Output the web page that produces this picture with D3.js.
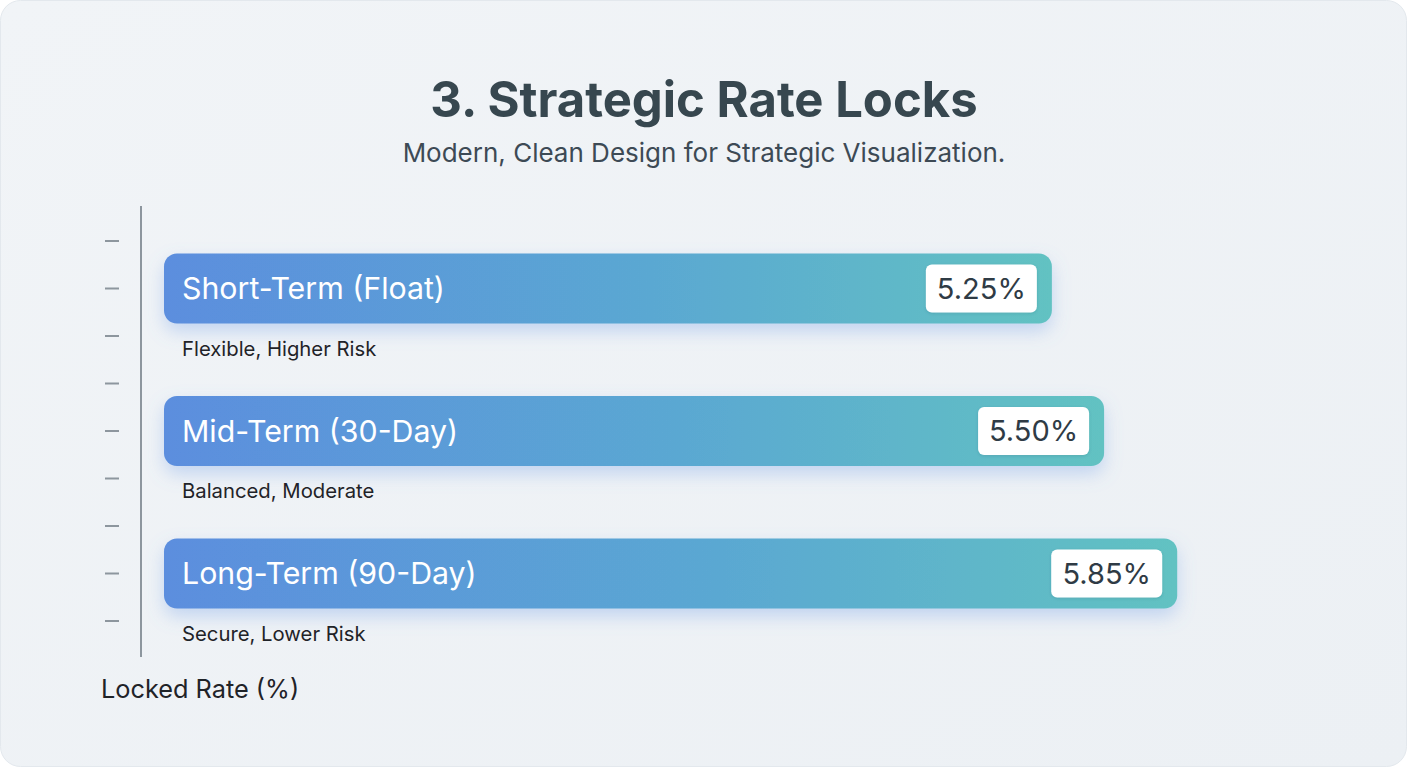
<!DOCTYPE html>
<html>
<head>
<meta charset="utf-8">
<script src="https://cdn.jsdelivr.net/npm/d3@7"></script>
<style>
  html, body { margin: 0; padding: 0; background: #ffffff; }
  body { width: 1408px; height: 768px; overflow: hidden; font-family: Inter, "Noto Sans", sans-serif; }
</style>
</head>
<body>
<svg id="chart" width="1408" height="768"></svg>
<script>
// DATA
const categories = ["Short-Term (Float)", "Mid-Term (30-Day)", "Long-Term (90-Day)"];
const rates = [5.25, 5.50, 5.85];
const notes = ["Flexible, Higher Risk", "Balanced, Moderate", "Secure, Lower Risk"];
const tickSlots = [0, 1, 2, 3, 4, 5, 6, 7, 8];
const barSlots = [1, 4, 7];

const svg = d3.select("#chart");
const defs = svg.append("defs");

// card background
const cardGrad = defs.append("linearGradient").attr("id", "cardGrad")
  .attr("x1", 0).attr("y1", 0).attr("x2", 1).attr("y2", 1);
cardGrad.append("stop").attr("offset", "0%").attr("stop-color", "#f1f4f7");
cardGrad.append("stop").attr("offset", "100%").attr("stop-color", "#ecf0f4");

svg.append("rect")
  .attr("x", 0.5).attr("y", 0.5).attr("width", 1406).attr("height", 766)
  .attr("rx", 20)
  .attr("fill", "url(#cardGrad)")
  .attr("stroke", "#e3e8ed");

// bar gradient + glow
const barGrad = defs.append("linearGradient").attr("id", "barGrad")
  .attr("gradientUnits", "objectBoundingBox")
  .attr("x1", 0).attr("x2", 1).attr("y1", 0).attr("y2", 0);
barGrad.append("stop").attr("offset", "0%").attr("stop-color", "#5b8ede");
barGrad.append("stop").attr("offset", "55%").attr("stop-color", "#5aa8d2");
barGrad.append("stop").attr("offset", "100%").attr("stop-color", "#62c2c2");

const glow = defs.append("filter").attr("id", "glow")
  .attr("x", "-10%").attr("y", "-40%").attr("width", "120%").attr("height", "200%");
glow.append("feDropShadow")
  .attr("dx", 0).attr("dy", 8).attr("stdDeviation", 9)
  .attr("flood-color", "#6f9ee6").attr("flood-opacity", 0.35);

const chipShadow = defs.append("filter").attr("id", "chipShadow")
  .attr("x", "-20%").attr("y", "-30%").attr("width", "140%").attr("height", "160%");
chipShadow.append("feDropShadow")
  .attr("dx", 0).attr("dy", 1).attr("stdDeviation", 1.5)
  .attr("flood-color", "#2d4a5a").attr("flood-opacity", 0.18);

// SCALES
const x = d3.scaleLinear().domain([1, 6.5]).range([164, 1313]);
const y = d3.scaleLinear().domain([0, 8]).range([241, 621]);
const barH = 70;

// TITLE
svg.append("text")
  .attr("x", 704).attr("y", 117)
  .attr("text-anchor", "middle")
  .attr("font-size", 49).attr("font-weight", 700)
  .attr("fill", "#37474f")
  .text("3. Strategic Rate Locks");

svg.append("text")
  .attr("x", 704).attr("y", 162)
  .attr("text-anchor", "middle")
  .attr("font-size", 26)
  .attr("fill", "#3d4a55")
  .text("Modern, Clean Design for Strategic Visualization.");

// AXIS
svg.append("line")
  .attr("x1", 141).attr("x2", 141).attr("y1", 206).attr("y2", 657)
  .attr("stroke", "#8d969e").attr("stroke-width", 2);

svg.append("g").selectAll("line")
  .data(tickSlots)
  .join("line")
  .attr("x1", 105).attr("x2", 119)
  .attr("y1", d => y(d)).attr("y2", d => y(d))
  .attr("stroke", "#8d969e").attr("stroke-width", 2);

svg.append("text")
  .attr("x", 101).attr("y", 698)
  .attr("font-size", 25.3)
  .attr("fill", "#1f2328")
  .text("Locked Rate (%)");

// BARS
const rows = categories.map((c, i) => ({ name: c, rate: rates[i], note: notes[i], slot: barSlots[i] }));

const bar = svg.append("g").selectAll("g")
  .data(rows)
  .join("g")
  .attr("transform", d => `translate(0,${y(d.slot) - barH / 2})`);

bar.append("rect")
  .attr("x", x(1))
  .attr("width", d => x(d.rate) - x(1))
  .attr("height", barH)
  .attr("rx", 13)
  .attr("fill", "url(#barGrad)")
  .attr("filter", "url(#glow)");

bar.append("text")
  .attr("x", x(1) + 18)
  .attr("y", barH / 2)
  .attr("dy", "0.35em")
  .attr("font-size", 30.3)
  .attr("fill", "#ffffff")
  .text(d => d.name);

const chipW = 111, chipH = 48;
bar.append("rect")
  .attr("x", d => x(d.rate) - 15 - chipW)
  .attr("y", (barH - chipH) / 2)
  .attr("width", chipW).attr("height", chipH)
  .attr("rx", 6)
  .attr("fill", "#ffffff")
  .attr("filter", "url(#chipShadow)");

bar.append("text")
  .attr("x", d => x(d.rate) - 15 - chipW / 2)
  .attr("y", barH / 2)
  .attr("dy", "0.35em")
  .attr("text-anchor", "middle")
  .attr("font-size", 29)
  .attr("fill", "#2f3b45")
  .text(d => d.rate.toFixed(2) + "%");

bar.append("text")
  .attr("x", x(1) + 18)
  .attr("y", barH + 32)
  .attr("font-size", 20.3)
  .attr("fill", "#1f2328")
  .text(d => d.note);
</script>
</body>
</html>
